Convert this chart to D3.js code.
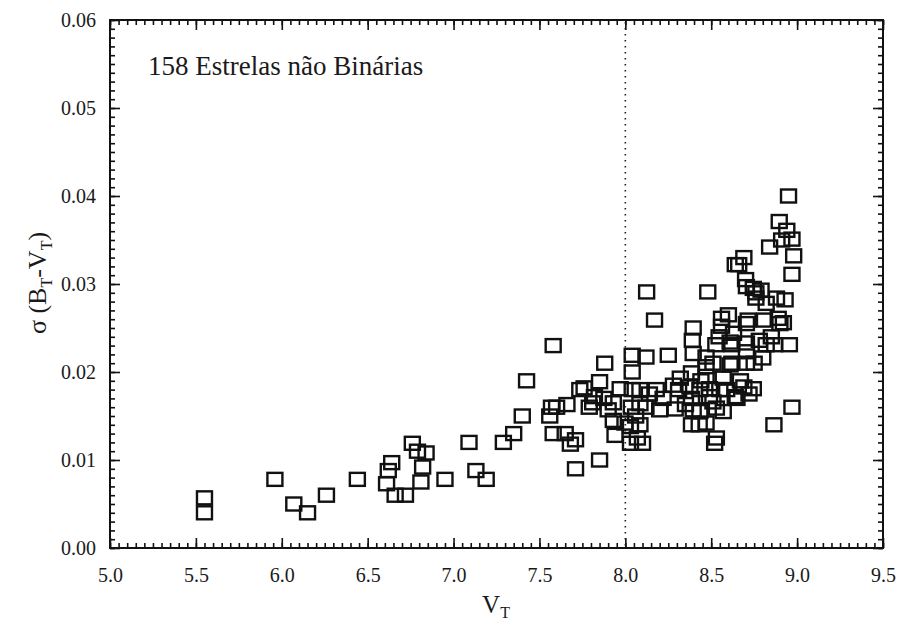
<!DOCTYPE html>
<html>
<head>
<meta charset="utf-8">
<script src="https://cdn.jsdelivr.net/npm/d3@7"></script>
<style>
  html, body { margin: 0; padding: 0; background: #fff; }
  svg { display: block; }
  text { font-family: "Liberation Serif", "Times New Roman", serif; fill: #1a1a1a; }
</style>
</head>
<body>
<svg id="chart" width="898" height="634"></svg>
<script>
// V_T magnitude of each star and the dispersion sigma(B_T - V_T)
const vtValues = [
  5.55, 5.55, 5.96, 6.07, 6.15, 6.26, 6.44,
  6.61, 6.62, 6.64, 6.66, 6.72, 6.76, 6.79, 6.84, 6.82, 6.81, 6.95,
  7.09, 7.13, 7.19, 7.29, 7.35, 7.40, 7.425,
  7.58, 7.57, 7.60, 7.56, 7.58, 7.65, 7.68, 7.71, 7.85, 7.735,
  7.79, 7.85, 7.88, 7.875, 7.90, 7.93, 7.94, 7.97, 7.76, 7.82,
  7.81, 7.998, 7.66, 7.71, 7.93,
  8.04, 8.04, 8.04, 8.035, 8.03, 8.03, 8.124, 8.17, 8.12, 8.25,
  8.395, 8.47, 8.395, 8.39, 8.48, 8.085, 8.18, 8.31, 8.376, 8.434,
  8.49, 8.385, 8.47, 8.32, 8.085, 8.12, 8.29, 8.385, 8.395, 8.49,
  8.434, 8.085, 8.385, 8.43, 8.10, 8.47, 8.47, 8.07, 8.22, 8.35,
  8.14, 8.28, 8.44, 8.06, 8.20,
  8.56, 8.64, 8.56, 8.546, 8.527, 8.61, 8.63, 8.62, 8.61, 8.57,
  8.59, 8.55, 8.53, 8.51, 8.57, 8.64, 8.52, 8.53, 8.715, 8.705,
  8.76, 8.82, 8.705, 8.78, 8.80, 8.705, 8.75, 8.62, 8.69, 8.745,
  8.705, 8.82, 8.87, 8.955, 8.95, 8.896, 8.94, 8.97, 8.84, 8.91,
  8.98, 8.97, 8.69, 8.66, 8.70, 8.745, 8.79, 8.88, 8.93, 8.76,
  8.81, 8.89, 8.92, 8.90, 8.97, 8.865, 8.705, 8.65, 8.60, 8.67,
  8.51, 8.85, 8.72
];
const sigmaValues = [
  0.0057, 0.0040, 0.0078, 0.0050, 0.0040, 0.0060, 0.0078,
  0.0073, 0.0088, 0.0097, 0.0060, 0.0060, 0.0119, 0.0110, 0.0108, 0.0092, 0.0075, 0.0078,
  0.0120, 0.0088, 0.0078, 0.0120, 0.0130, 0.0150, 0.0190,
  0.0230, 0.0160, 0.0160, 0.0150, 0.0130, 0.0130, 0.0118, 0.0090, 0.0100, 0.0180,
  0.0160, 0.0189, 0.0210, 0.0170, 0.0157, 0.0145, 0.0128, 0.0181, 0.0182, 0.0172,
  0.0165, 0.0142, 0.0163, 0.0123, 0.0165,
  0.0219, 0.0200, 0.0180, 0.0160, 0.0138, 0.0119, 0.0291, 0.0259, 0.0217, 0.0219,
  0.0221, 0.0217, 0.0250, 0.0236, 0.0291, 0.0180, 0.0180, 0.0180, 0.0183, 0.0180,
  0.0181, 0.0199, 0.0195, 0.0193, 0.0164, 0.0160, 0.0158, 0.0170, 0.0157, 0.0172,
  0.0155, 0.0140, 0.0140, 0.0140, 0.0119, 0.0206, 0.0142, 0.0125, 0.0170, 0.0163,
  0.0175, 0.0185, 0.0190, 0.0150, 0.0157,
  0.0261, 0.0322, 0.0252, 0.0240, 0.0231, 0.0234, 0.0244, 0.0231, 0.0208, 0.0193,
  0.0180, 0.0180, 0.0159, 0.0166, 0.0155, 0.0172, 0.0119, 0.0125, 0.0259, 0.0297,
  0.0290, 0.0278, 0.0233, 0.0236, 0.0216, 0.0210, 0.0210, 0.0210, 0.0183, 0.0181,
  0.0223, 0.0231, 0.0231, 0.0231, 0.0400, 0.0371, 0.0361, 0.0351, 0.0342, 0.0350,
  0.0332, 0.0311, 0.0330, 0.0322, 0.0305, 0.0295, 0.0293, 0.0284, 0.0282, 0.0284,
  0.0259, 0.0261, 0.0256, 0.0255, 0.0160, 0.0140, 0.0255, 0.0170, 0.0265, 0.0190,
  0.0210, 0.0240, 0.0175
];

const xTickValues = [5.0, 5.5, 6.0, 6.5, 7.0, 7.5, 8.0, 8.5, 9.0, 9.5];
const yTickValues = [0.00, 0.01, 0.02, 0.03, 0.04, 0.05, 0.06];
const titleText = "158 Estrelas não Binárias";
const separatorVT = 8.0;

(function drawChart() {
  const svg = d3.select("#chart");
  const plotLeft = 110, plotRight = 883, plotTop = 20, plotBottom = 548;

  const x = d3.scaleLinear().domain([5.0, 9.5]).range([plotLeft, plotRight]);
  const y = d3.scaleLinear().domain([0.0, 0.06]).range([plotBottom, plotTop]);

  const xMinor = d3.range(5.0, 9.5001, 0.05).map(v => +v.toFixed(2));
  const yMinor = d3.range(0, 0.06001, 0.001).map(v => +v.toFixed(3));

  function styleAxis(g) {
    g.select(".domain").remove();
    g.selectAll(".tick line").attr("stroke", "#111").attr("stroke-width", 1.6);
  }

  // minor ticks on all four sides (pointing inward)
  svg.append("g").attr("transform", `translate(0,${plotBottom})`)
    .call(d3.axisBottom(x).tickValues(xMinor).tickSize(-5).tickFormat(""))
    .call(styleAxis);
  svg.append("g").attr("transform", `translate(0,${plotTop})`)
    .call(d3.axisTop(x).tickValues(xMinor).tickSize(-5).tickFormat(""))
    .call(styleAxis);
  svg.append("g").attr("transform", `translate(${plotLeft},0)`)
    .call(d3.axisLeft(y).tickValues(yMinor).tickSize(-5).tickFormat(""))
    .call(styleAxis);
  svg.append("g").attr("transform", `translate(${plotRight},0)`)
    .call(d3.axisRight(y).tickValues(yMinor).tickSize(-5).tickFormat(""))
    .call(styleAxis);

  // major ticks with labels
  const xAxis = svg.append("g").attr("transform", `translate(0,${plotBottom})`)
    .call(d3.axisBottom(x).tickValues(xTickValues).tickSize(-10).tickPadding(20)
      .tickFormat(d3.format(".1f")))
    .call(styleAxis);
  xAxis.selectAll(".tick text").attr("font-size", 20).attr("fill", "#1a1a1a")
    .attr("font-family", "Liberation Serif, serif");

  svg.append("g").attr("transform", `translate(0,${plotTop})`)
    .call(d3.axisTop(x).tickValues(xTickValues).tickSize(-10).tickFormat(""))
    .call(styleAxis);

  const yAxis = svg.append("g").attr("transform", `translate(${plotLeft},0)`)
    .call(d3.axisLeft(y).tickValues(yTickValues).tickSize(-10).tickPadding(14)
      .tickFormat(d3.format(".2f")))
    .call(styleAxis);
  yAxis.selectAll(".tick text").attr("font-size", 20).attr("fill", "#1a1a1a")
    .attr("font-family", "Liberation Serif, serif");

  svg.append("g").attr("transform", `translate(${plotRight},0)`)
    .call(d3.axisRight(y).tickValues(yTickValues).tickSize(-10).tickFormat(""))
    .call(styleAxis);

  // frame
  svg.append("rect")
    .attr("x", plotLeft).attr("y", plotTop)
    .attr("width", plotRight - plotLeft).attr("height", plotBottom - plotTop)
    .attr("fill", "none").attr("stroke", "#111").attr("stroke-width", 2);

  // dotted separator at V_T = 8.0
  svg.append("line")
    .attr("x1", x(separatorVT)).attr("x2", x(separatorVT))
    .attr("y1", plotTop + 2).attr("y2", plotBottom - 2)
    .attr("stroke", "#222").attr("stroke-width", 1.6)
    .attr("stroke-dasharray", "1.6,4.4");

  // open square markers
  const pts = vtValues.map((v, i) => ({ vt: v, s: sigmaValues[i] }));
  const mw = 15, mh = 13;
  svg.append("g").selectAll("rect")
    .data(pts).join("rect")
    .attr("x", d => x(d.vt) - mw / 2)
    .attr("y", d => y(d.s) - mh / 2)
    .attr("width", mw).attr("height", mh)
    .attr("fill", "none").attr("stroke", "#111").attr("stroke-width", 2.4);

  // annotation
  svg.append("text")
    .attr("x", 148).attr("y", 75)
    .attr("font-size", 27)
    .text(titleText);

  // axis titles
  const xl = svg.append("text")
    .attr("x", 496).attr("y", 613)
    .attr("text-anchor", "middle")
    .attr("font-size", 25);
  xl.append("tspan").text("V");
  xl.append("tspan").attr("font-size", 16).attr("dy", 5).text("T");

  const yl = svg.append("text")
    .attr("transform", "translate(46,283) rotate(-90)")
    .attr("text-anchor", "middle")
    .attr("font-size", 26);
  yl.append("tspan").text("σ (B");
  yl.append("tspan").attr("font-size", 16).attr("dy", 6).text("T");
  yl.append("tspan").attr("dy", -6).text("-V");
  yl.append("tspan").attr("font-size", 16).attr("dy", 6).text("T");
  yl.append("tspan").attr("dy", -6).text(")");
})();
</script>
</body>
</html>
